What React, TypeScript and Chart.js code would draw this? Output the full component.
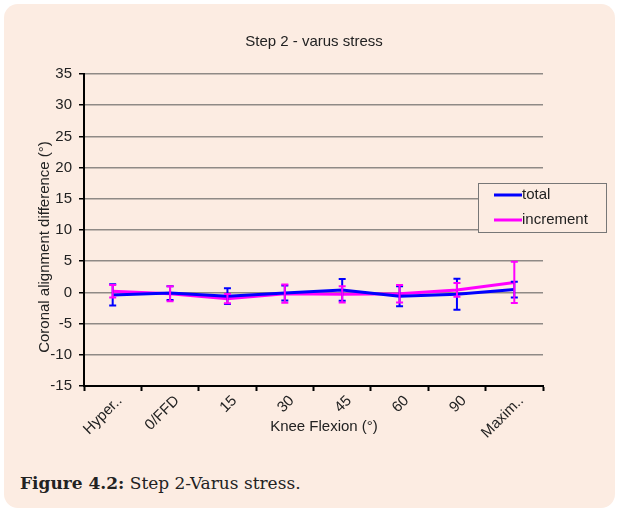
import { useEffect, useRef } from 'react';
import { Chart, registerables } from 'chart.js';

Chart.register(...registerables);

const categories = ['Hyper..', '0/FFD', '15', '30', '45', '60', '90', 'Maxim..'];
const totalMean = [-0.4, -0.1, -0.6, -0.1, 0.4, -0.6, -0.3, 0.45];
const totalErr = [1.7, 1.1, 1.25, 1.2, 1.75, 1.6, 2.5, 1.25];
const incrementMean = [0.2, -0.2, -1.0, -0.2, -0.3, -0.2, 0.4, 1.6];
const incrementErr = [1.0, 1.2, 0.75, 1.45, 1.3, 1.4, 1.1, 3.3];
const yTicks = [-15, -10, -5, 0, 5, 10, 15, 20, 25, 30, 35];

const BG = '#fcece2';
const FONT = 'Liberation Sans, Arial, sans-serif';
const BLUE = '#0000ff';
const PINK = '#ff00ff';

export default function App() {
  const ref = useRef<HTMLCanvasElement>(null);

  useEffect(() => {
    document.body.style.margin = '0';
    const canvas = ref.current;
    if (!canvas) return;

    const errSets = [
      { mean: totalMean, err: totalErr, color: BLUE, ds: 0 },
      { mean: incrementMean, err: incrementErr, color: PINK, ds: 1 },
    ];

    const errorBars = {
      id: 'errorBars',
      afterDatasetsDraw(chart: any) {
        const ctx = chart.ctx;
        const y = chart.scales.y;
        ctx.save();
        errSets.forEach((s) => {
          const meta = chart.getDatasetMeta(s.ds);
          ctx.strokeStyle = s.color;
          ctx.lineWidth = 2;
          s.mean.forEach((m, j) => {
            const x = meta.data[j].x;
            const yt = y.getPixelForValue(m + s.err[j]);
            const yb = y.getPixelForValue(m - s.err[j]);
            ctx.beginPath();
            ctx.moveTo(x, yt);
            ctx.lineTo(x, yb);
            ctx.moveTo(x - 3.5, yt);
            ctx.lineTo(x + 3.5, yt);
            ctx.moveTo(x - 3.5, yb);
            ctx.lineTo(x + 3.5, yb);
            ctx.stroke();
          });
        });
        ctx.restore();
      },
    };

    const extras = {
      id: 'extras',
      afterDraw(chart: any) {
        const ctx = chart.ctx;
        ctx.save();
        ctx.fillStyle = '#222';
        ctx.font = `15px ${FONT}`;
        ctx.textAlign = 'center';
        ctx.textBaseline = 'middle';
        // chart title
        ctx.fillText('Step 2 - varus stress', 314, 42);
        // y axis title
        ctx.save();
        ctx.translate(45, 247);
        ctx.rotate(-Math.PI / 2);
        ctx.fillText('Coronal alignment difference (°)', 0, 0);
        ctx.restore();
        // x axis title
        ctx.fillText('Knee Flexion (°)', 324, 427);
        // legend box
        const bx = 478, by = 183, bw = 128, bh = 49;
        ctx.fillStyle = BG;
        ctx.fillRect(bx, by, bw, bh);
        ctx.strokeStyle = '#777';
        ctx.lineWidth = 1;
        ctx.strokeRect(bx + 0.5, by + 0.5, bw, bh);
        const entries = [
          { label: 'total', color: BLUE, y: 195 },
          { label: 'increment', color: PINK, y: 220 },
        ];
        entries.forEach((e) => {
          ctx.strokeStyle = e.color;
          ctx.lineWidth = 3;
          ctx.beginPath();
          ctx.moveTo(494, e.y);
          ctx.lineTo(522, e.y);
          ctx.stroke();
          ctx.fillStyle = '#222';
          ctx.textAlign = 'left';
          ctx.fillText(e.label, 522, e.y);
        });
        ctx.restore();
      },
    };

    const chart = new Chart(canvas, {
      type: 'line',
      data: {
        labels: categories,
        datasets: [
          {
            label: 'total',
            data: totalMean,
            borderColor: BLUE,
            backgroundColor: BLUE,
            borderWidth: 3,
            pointRadius: 0,
            tension: 0,
          },
          {
            label: 'increment',
            data: incrementMean,
            borderColor: PINK,
            backgroundColor: PINK,
            borderWidth: 3,
            pointRadius: 0,
            tension: 0,
          },
        ],
      },
      options: {
        animation: false,
        responsive: false,
        maintainAspectRatio: false,
        layout: { padding: { left: 0, right: 74, top: 74, bottom: 0 } },
        plugins: {
          legend: { display: false },
          tooltip: { enabled: false },
          title: { display: false },
        },
        scales: {
          x: {
            type: 'category',
            offset: true,
            afterFit: (s: any) => {
              s.height = 54;
            },
            border: { color: '#000', width: 2 },
            grid: {
              offset: true,
              drawOnChartArea: false,
              drawTicks: true,
              tickLength: 5,
              tickColor: '#000',
              tickWidth: 2,
            },
            ticks: {
              minRotation: 45,
              maxRotation: 45,
              autoSkip: false,
              color: '#222',
              font: { family: FONT, size: 15 },
              padding: 1,
              labelOffset: 7,
            },
          },
          y: {
            min: -15,
            max: 35,
            afterFit: (s: any) => {
              s.width = 84;
            },
            afterBuildTicks: (s: any) => {
              s.ticks = yTicks.map((v) => ({ value: v }));
            },
            border: { color: '#000', width: 2 },
            grid: {
              color: '#8f8a86',
              lineWidth: 1.5,
              drawTicks: true,
              tickLength: 5,
              tickColor: '#000',
              tickWidth: 1.5,
            },
            ticks: {
              color: '#222',
              font: { family: FONT, size: 15 },
              padding: 7,
            },
          },
        },
      },
      plugins: [errorBars, extras],
    } as any);

    return () => chart.destroy();
  }, []);

  return (
    <div style={{ position: 'relative', width: 617, height: 512, background: '#fff', overflow: 'hidden' }}>
      <div
        style={{
          position: 'absolute',
          left: 4,
          top: 4,
          width: 611,
          height: 504,
          borderRadius: 14,
          background: BG,
        }}
      />
      <canvas
        ref={ref}
        width={617}
        height={440}
        style={{ position: 'absolute', left: 0, top: 0, width: 617, height: 440 }}
      />
      <div
        style={{
          position: 'absolute',
          left: 20,
          top: 473,
          fontFamily: 'DejaVu Serif, serif',
          fontSize: 17,
          color: '#222',
          whiteSpace: 'nowrap',
        }}
      >
        <b>Figure 4.2:</b> Step 2-Varus stress.
      </div>
    </div>
  );
}
